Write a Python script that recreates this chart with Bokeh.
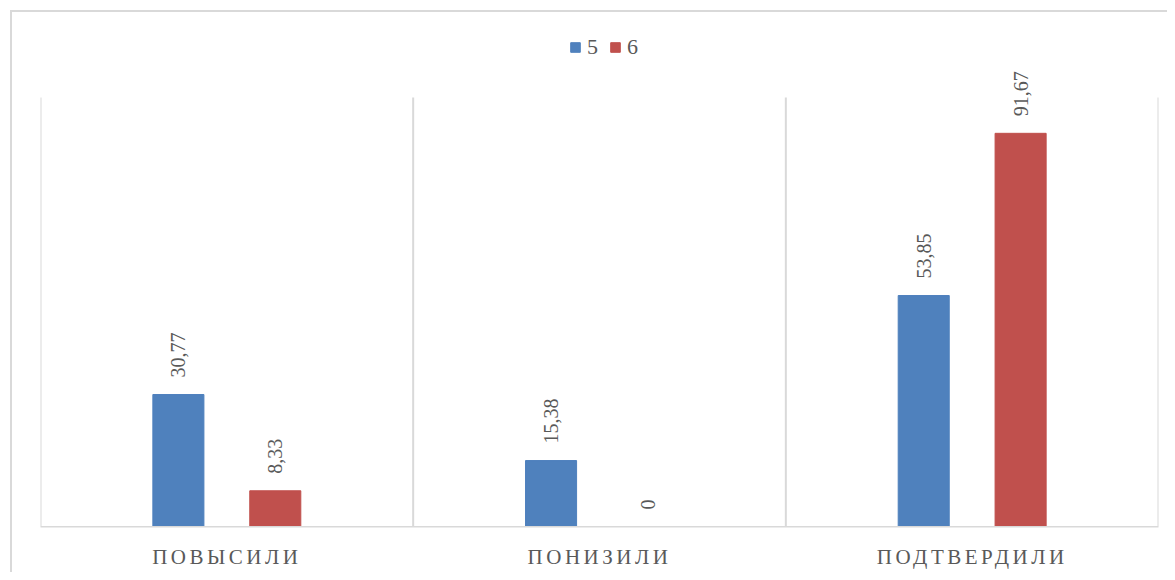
from bokeh.plotting import figure
from bokeh.layouts import column
from bokeh.models import ColumnDataSource, FactorRange, Range1d, Legend, LegendItem, FixedTicker
from bokeh.transform import dodge
from bokeh.core.properties import value
from bokeh.embed import file_html
from bokeh.resources import INLINE
import math

categories = ["ПОВЫСИЛИ", "ПОНИЗИЛИ", "ПОДТВЕРДИЛИ"]
series_names = ["5", "6"]
values_5 = [30.77, 15.38, 53.85]
values_6 = [8.33, 0, 91.67]
labels_5 = ["30,77", "15,38", "53,85"]
labels_6 = ["8,33", "0", "91,67"]

colors = ["#4F81BD", "#C0504D"]
FONT = "Liberation Serif"
GREY = "#595959"
LINE = "#d9d9d9"
AXIS_MAX = 100
LS = 3.5           # letter spacing of category labels, px

src = ColumnDataSource(dict(cat=categories, v5=values_5, v6=values_6, l5=labels_5, l6=labels_6))

BL, BR, BT = 40, 9, 20
FW = 1118          # frame width
FH = 512           # frame height of main plot
plot_h = 434       # pixel height of the 0..AXIS_MAX area
y_end = AXIS_MAX * FH / plot_h

x_range = FactorRange(factors=categories, range_padding=0)

p = figure(frame_width=FW, frame_height=FH, x_range=x_range,
           y_range=Range1d(0, y_end), output_backend="svg", toolbar_location=None,
           min_border_left=BL, min_border_right=BR, min_border_top=BT, min_border_bottom=0)
p.border_fill_color = None
p.background_fill_color = None
p.outline_line_color = None
p.xaxis.visible = False
p.yaxis.visible = False
p.ygrid.visible = False
p.xgrid.visible = False

bounds = list(range(len(categories) + 1))
p.segment(x0=bounds, y0=[0] * len(bounds), x1=bounds, y1=[AXIS_MAX] * len(bounds),
          line_color=LINE, line_width=2)

off = 0.13
w = 0.137
r5 = p.vbar(x=dodge("cat", -off, range=x_range), top="v5", width=w, source=src, color=colors[0])
r6 = p.vbar(x=dodge("cat", off, range=x_range), top="v6", width=w, source=src, color=colors[1])

for col, lab, d in [("v5", "l5", -off), ("v6", "l6", off)]:
    p.text(x=dodge("cat", d, range=x_range), y=col, text=lab, source=src, angle=math.pi / 2,
           text_align="left", text_baseline="middle", y_offset=-17,
           text_font=value(FONT), text_font_size="20px", text_color=GREY)

legend = Legend(items=[LegendItem(label=series_names[0], renderers=[r5]),
                       LegendItem(label=series_names[1], renderers=[r6])],
                orientation="horizontal", location=(529, 466),
                label_text_font=FONT, label_text_font_size="22px", label_text_color=GREY,
                glyph_width=12, glyph_height=12, spacing=2, label_standoff=6,
                border_line_color=None, background_fill_alpha=0, padding=0, margin=0)
p.add_layout(legend, "center")

# category axis strip (letter-spaced labels); ticks shifted to keep spaced text centred
n = len(categories)
px_per_unit = FW / n
ticks = [round(i + 0.5 - len(c) * LS / 2 / px_per_unit, 6) for i, c in enumerate(categories)]
overrides = {}
for t, c in zip(ticks, categories):
    overrides[t] = c
    overrides[str(t)] = c

p2 = figure(frame_width=FW, frame_height=1, x_range=Range1d(0, n), y_range=Range1d(0, 1),
            output_backend="svg", toolbar_location=None,
            min_border_left=BL, min_border_right=BR, min_border_top=0, min_border_bottom=0)
p2.border_fill_color = None
p2.background_fill_color = None
p2.outline_line_color = None
p2.yaxis.visible = False
p2.grid.visible = False
p2.styles = {"letter-spacing": f"{LS}px"}
ax = p2.xaxis[0]
ax.ticker = FixedTicker(ticks=ticks)
ax.major_label_overrides = overrides
ax.axis_line_color = LINE
ax.axis_line_width = 2
ax.major_tick_line_color = None
ax.minor_tick_line_color = None
ax.major_label_text_font = FONT
ax.major_label_text_font_size = "21px"
ax.major_label_text_color = GREY
ax.major_label_standoff = 12

layout = column(p, p2, spacing=0, styles={
    "background-color": "white",
    "background-image": f"linear-gradient({LINE},{LINE}), linear-gradient({LINE},{LINE})",
    "background-position": "10px 10px, 10px 10px",
    "background-size": "100% 2px, 2px 100%",
    "background-repeat": "no-repeat",
    "height": "572px",
})

open("out.html", "w").write(file_html(layout, INLINE))
